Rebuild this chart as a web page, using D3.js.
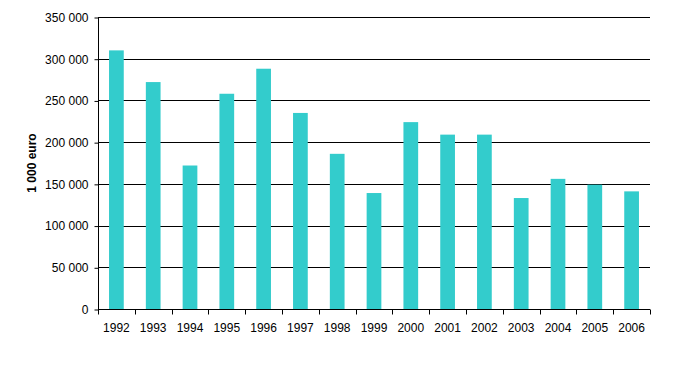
<!DOCTYPE html>
<html>
<head>
<meta charset="utf-8">
<script src="https://cdn.jsdelivr.net/npm/d3@7.9.0/dist/d3.min.js"></script>
<style>
  body { margin: 0; background: #fff; }
  text { font-family: "Liberation Sans", Arial, sans-serif; font-size: 12px; fill: #000; }
</style>
</head>
<body>
<div id="chart"></div>
<script>
const years = ["1992", "1993", "1994", "1995", "1996", "1997", "1998", "1999",
  "2000", "2001", "2002", "2003", "2004", "2005", "2006"];
const values = [310000, 272000, 172000, 258000, 288000, 235000, 186000, 139000,
  224000, 209000, 209000, 133000, 156000, 149000, 141000];
const yTicks = [0, 50000, 100000, 150000, 200000, 250000, 300000, 350000];
const yLabel = "1 000 euro";

const width = 674;
const height = 372;
const margin = { top: 17, right: 24, bottom: 63, left: 98 };

const svg = d3.select("#chart")
  .append("svg")
  .attr("width", width)
  .attr("height", height);

const xScale = d3.scaleBand()
  .domain(years)
  .range([margin.left, width - margin.right])
  .paddingInner(0.6)
  .paddingOuter(0.3);

const xBounds = d3.scaleLinear()
  .domain([0, years.length])
  .range([margin.left, width - margin.right]);

const yScale = d3.scaleLinear()
  .domain([0, 350000])
  .range([height - margin.bottom, margin.top]);

const fmt = (d) => d3.format(",")(d).replace(/,/g, " ");

// gridlines
svg.append("g")
  .selectAll("line")
  .data(yTicks.filter((d) => d > 0))
  .join("line")
  .attr("x1", margin.left)
  .attr("x2", width - margin.right)
  .attr("y1", (d) => Math.round(yScale(d)) + 0.5)
  .attr("y2", (d) => Math.round(yScale(d)) + 0.5)
  .attr("stroke", "#000")
  .attr("stroke-width", 1);

// bars
svg.append("g")
  .selectAll("rect")
  .data(years)
  .join("rect")
  .attr("x", (d) => xScale(d))
  .attr("width", xScale.bandwidth())
  .attr("y", (d, i) => yScale(values[i]))
  .attr("height", (d, i) => yScale(0) - yScale(values[i]))
  .attr("fill", "#33CCCC");

// y axis
const yAxis = svg.append("g")
  .attr("transform", `translate(${margin.left + 0.5}, 0.5)`)
  .call(d3.axisLeft(yScale).tickValues(yTicks).tickFormat(fmt).tickSize(4).tickPadding(6));
yAxis.selectAll("text").attr("font-size", 12).attr("font-family", "Liberation Sans, Arial, sans-serif");
yAxis.selectAll("path, line").attr("stroke", "#000");
yAxis.select(".domain").attr("d", `M0,${margin.top}V${height - margin.bottom}`);

// x axis
const y0 = Math.round(yScale(0)) + 0.5;
const xAxis = svg.append("g");
xAxis.append("line")
  .attr("x1", margin.left)
  .attr("x2", width - margin.right)
  .attr("y1", y0)
  .attr("y2", y0)
  .attr("stroke", "#000");
xAxis.selectAll(".tick")
  .data(d3.range(years.length + 1))
  .join("line")
  .attr("x1", (d) => Math.round(xBounds(d)) + 0.5)
  .attr("x2", (d) => Math.round(xBounds(d)) + 0.5)
  .attr("y1", y0)
  .attr("y2", y0 + 5)
  .attr("stroke", "#000");
xAxis.selectAll("text")
  .data(years)
  .join("text")
  .attr("x", (d) => xScale(d) + xScale.bandwidth() / 2)
  .attr("y", y0 + 22)
  .attr("text-anchor", "middle")
  .text((d) => d);

// y label
svg.append("text")
  .attr("transform", `translate(36, ${(margin.top + height - margin.bottom) / 2}) rotate(-90)`)
  .attr("text-anchor", "middle")
  .attr("font-weight", "bold")
  .text(yLabel);
</script>
</body>
</html>
